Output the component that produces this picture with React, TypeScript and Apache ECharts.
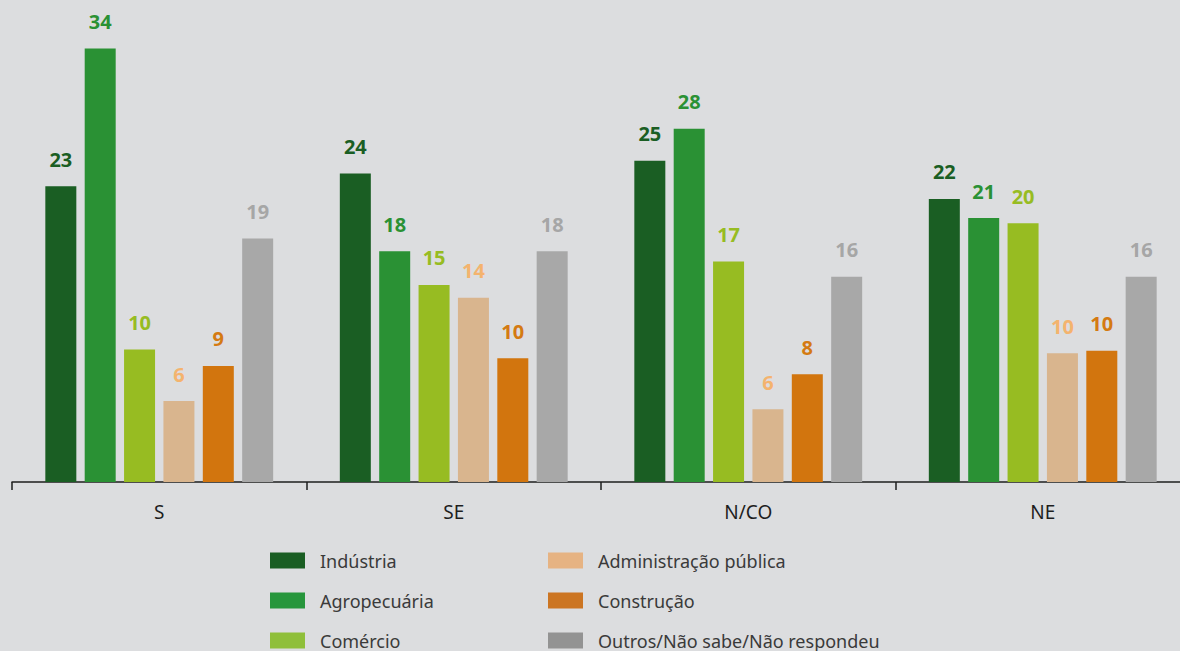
import React, { useEffect, useRef } from "react";
import * as echarts from "echarts";

const categories = ["S", "SE", "N/CO", "NE"];
const seriesNames = [
  "Indústria",
  "Agropecuária",
  "Comércio",
  "Administração pública",
  "Construção",
  "Outros/Não sabe/Não respondeu",
];
// values per series across categories S, SE, N/CO, NE
const industria = [23.2, 24.2, 25.2, 22.2];
const agropecuaria = [34.0, 18.1, 27.7, 20.7];
const comercio = [10.4, 15.45, 17.3, 20.3];
const administracao = [6.35, 14.45, 5.7, 10.1];
const construcao = [9.1, 9.7, 8.45, 10.3];
const outros = [19.1, 18.1, 16.1, 16.1];

const seriesValues = [industria, agropecuaria, comercio, administracao, construcao, outros];
const barColors = ["#1a5e23", "#2a9134", "#97bc22", "#d9b58e", "#d2750e", "#a8a8a8"];
const labelColors = ["#1a5e23", "#2a9134", "#97bc22", "#f4b36e", "#d47a12", "#a6a6a6"];
const legendColors = ["#1a5e23", "#27963c", "#8fbf3a", "#e6b383", "#cc7522", "#939393"];

export default function App() {
  const ref = useRef<HTMLDivElement>(null);
  useEffect(() => {
    if (!ref.current) return;
    const chart = echarts.init(ref.current, undefined, { renderer: "svg" });
    const font = "'Noto Sans', sans-serif";
    const legendItem = (i: number) => ({
      name: seriesNames[i],
      itemStyle: { color: legendColors[i] },
    });
    const legendBase = {
      orient: "vertical",
      top: 550,
      height: 110,
      itemWidth: 35,
      itemHeight: 16,
      itemGap: 19,
      icon: "rect",
      padding: 0,
      textStyle: { fontSize: 18, color: "#3a3a3a", lineHeight: 21, padding: [0, 0, 0, 10] },
    };
    chart.setOption({
      animation: false,
      backgroundColor: "#dcdddf",
      textStyle: { fontFamily: font },
      grid: { left: 12, width: 1178, top: 0, bottom: 169, containLabel: false },
      legend: [
        { ...legendBase, left: 270, data: [0, 1, 2].map(legendItem) },
        { ...legendBase, left: 548, data: [3, 4, 5].map(legendItem) },
      ],
      xAxis: {
        type: "category",
        data: categories,
        boundaryGap: true,
        axisLine: { show: true, lineStyle: { color: "#1e1e1e", width: 1.5 } },
        axisTick: { show: true, length: 8, lineStyle: { color: "#1e1e1e", width: 1.5 } },
        axisLabel: { fontSize: 19, color: "#1e1e1e", margin: 20 },
      },
      yAxis: {
        type: "value",
        min: 0,
        max: 37.8,
        show: false,
        splitLine: { show: false },
      },
      series: seriesNames.map((name, i) => ({
        name,
        type: "bar",
        data: seriesValues[i],
        barWidth: 31,
        barGap: "27%",
        itemStyle: { color: barColors[i] },
        label: {
          show: true,
          position: "top",
          distance: 17,
          color: labelColors[i],
          fontSize: 20,
          fontWeight: "bold",
          fontFamily: font,
          formatter: (p: any) => String(Math.round(p.value)),
        },
      })),
    });
    return () => chart.dispose();
  }, []);
  return (
    <div
      style={{
        position: "fixed",
        left: 0,
        top: 0,
        width: 1180,
        height: 651,
        overflow: "hidden",
        background: "#dcdddf",
      }}
    >
      <div ref={ref} style={{ width: 1200, height: 651 }} />
    </div>
  );
}
